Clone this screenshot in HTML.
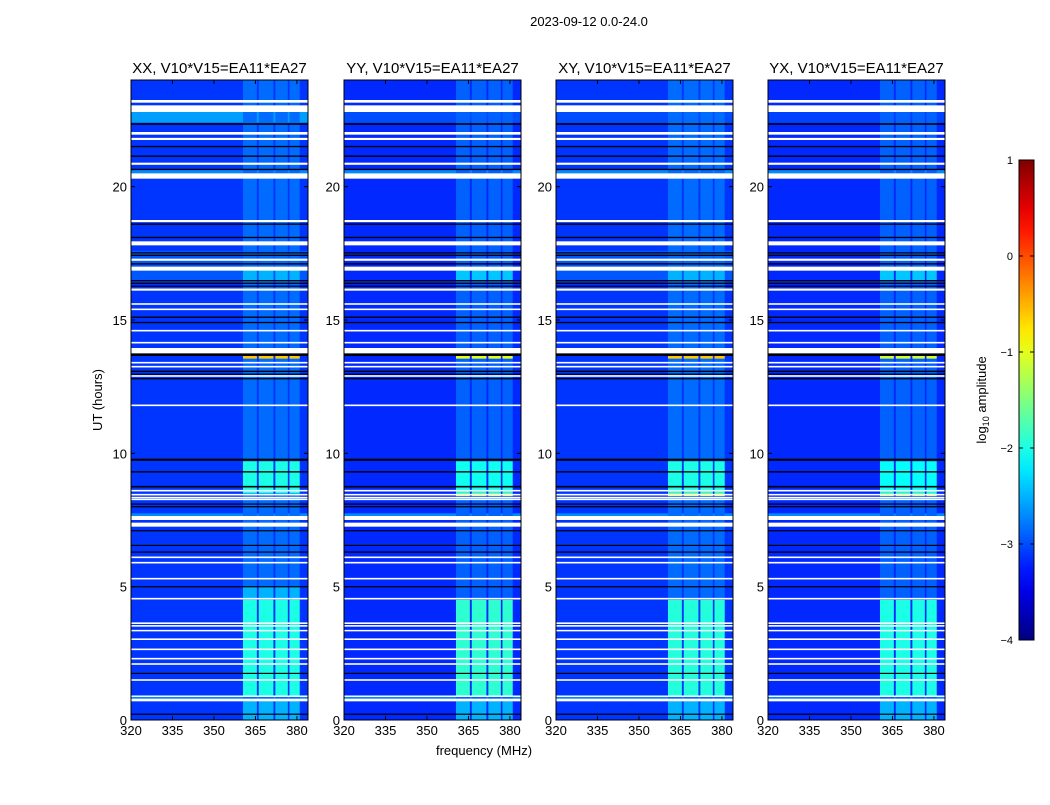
<!DOCTYPE html>
<html><head><meta charset="utf-8"><style>
body{margin:0;background:#fff;width:1050px;height:800px;overflow:hidden;font-family:"Liberation Sans","DejaVu Sans",sans-serif}
svg text{font-family:"Liberation Sans","DejaVu Sans",sans-serif}
</style></head><body>
<svg id="fig" width="1050" height="800" viewBox="0 0 1050 800" xmlns="http://www.w3.org/2000/svg">
<text x="589" y="26" font-size="13" text-anchor="middle">2023-09-12 0.0-24.0</text>
<text x="0" y="0" font-size="13" text-anchor="middle" transform="translate(102,400) rotate(-90)">UT (hours)</text>
<text x="484" y="755" font-size="13" text-anchor="middle">frequency (MHz)</text>
<g id="panels"></g>
<g id="cbar"></g>
</svg>
<script>
// ---- data ----
const panelTitles = ["XX, V10*V15=EA11*EA27","YY, V10*V15=EA11*EA27","XY, V10*V15=EA11*EA27","YX, V10*V15=EA11*EA27"];
const xTicks = [320,335,350,365,380];
const yTicks = [0,5,10,15,20];
const cbarTicks = [1,0,-1,-2,-3,-4];
const backgroundLevel = [-3.12,-3.18,-3.12,-3.18];
// flagged (white) time ranges in hours
const whiteBands = [[23.15,23.25],[22.95,23.05],[22.8,22.95],[21.95,22.05],[21.75,21.83],[20.82,20.9],[20.3,20.5],[18.67,18.75],[17.8,17.95],[17.22,17.3],[16.85,17.0],[16.1,16.18],[15.57,15.63],[15.37,15.43],[14.57,14.63],[14.12,14.18],[13.75,13.95],[13.37,13.43],[13.22,13.28],[12.87,12.93],[11.77,11.83],[8.57,8.63],[8.42,8.48],[8.32,8.37],[8.25,8.3],[7.5,7.65],[7.25,7.4],[6.07,6.13],[5.87,5.93],[5.27,5.33],[4.52,4.58],[3.6,3.66],[3.5,3.56],[3.33,3.38],[3.0,3.06],[2.62,2.68],[2.27,2.33],[2.07,2.13],[1.47,1.53],[0.88,0.92],[0.7,0.8]];
// black (zero) lines
const blackBands = [[22.32,22.38],[21.48,21.53],[21.12,21.17],[20.62,20.67],[18.57,18.62],[18.07,18.12],[17.4,17.45],[17.5,17.54],[17.08,17.13],[16.46,16.5],[16.36,16.4],[16.25,16.29],[15.08,15.13],[14.88,14.93],[13.65,13.75],[13.05,13.1],[12.95,12.99],[12.78,12.82],[9.72,9.8],[9.28,9.33],[8.72,8.78],[8.08,8.12],[7.98,8.02],[7.08,7.12],[6.53,6.57],[6.28,6.32],[4.98,5.02],[1.73,1.77],[0.2,0.24]];
// RFI sub-band frequency ranges (MHz)
const subBands = [[360.5,365.5],[366.2,371.5],[372.2,376.7],[377.3,381]];
// band level segments per panel: [h0,h1,log10 amplitude]
const bandXX = [[0,24,-2.85],[0,0.7,-2.5],[0.9,4.5,-2.0],[4.5,5.0,-2.5],[8.5,9.7,-2.0],[13.55,13.65,-0.6],[16.5,17.0,-2.5]];
const bandYY = [[0,24,-2.9],[0,0.7,-2.5],[0.9,4.5,-1.9],[8.4,8.5,-1.0],[8.5,9.7,-2.05],[13.55,13.65,-1.0],[16.5,17.0,-2.4]];
const bandXY = [[0,24,-2.85],[0,0.7,-2.5],[0.9,4.5,-1.95],[8.4,8.5,-0.9],[8.5,9.7,-2.0],[13.55,13.65,-0.6],[16.5,17.0,-2.5]];
const bandYX = [[0,24,-2.9],[0,0.7,-2.5],[0.9,4.5,-2.0],[8.4,8.5,-1.1],[8.5,9.7,-2.1],[13.55,13.65,-1.1],[16.5,17.0,-2.4]];
const bandLevels = [bandXX,bandYY,bandXY,bandYX];
// broadband brighter time regions per panel: [h0,h1,value]
const wideXX = [[22.4,22.8,-2.6],[20.5,20.65,-2.7],[16.5,17.6,-2.95],[0.8,0.9,-2.7],[7.65,7.75,-2.7]];
const wideYY = [[22.4,22.8,-3.0],[20.5,20.65,-2.7],[7.65,7.75,-2.7],[0.8,0.9,-2.7]];
const wideXY = [[22.4,22.8,-3.0],[20.5,20.65,-2.7],[16.5,17.6,-2.95],[7.65,7.75,-2.7],[0.8,0.9,-2.7]];
const wideYX = [[22.4,22.8,-3.05],[20.5,20.65,-2.7],[7.65,7.75,-2.7],[0.8,0.9,-2.7]];
const wideLevels = [wideXX,wideYY,wideXY,wideYX];

// ---- layout ----
const panelX = [131,344,556,768];
const PW = 177, PT = 80, PB = 720;
const F0 = 320, F1 = 384, H0 = 0, H1 = 24;
const NS = "http://www.w3.org/2000/svg";
function xScale(p,f){return panelX[p] + (f-F0)/(F1-F0)*PW;}
function yScale(h){return PB - (h-H0)/(H1-H0)*(PB-PT);}
function jet(v){
  let t=(v+4)/5; t=Math.max(0,Math.min(1,t));
  const c=x=>Math.round(255*Math.max(0,Math.min(1,x)));
  return `rgb(${c(1.5-Math.abs(4*t-3))},${c(1.5-Math.abs(4*t-2))},${c(1.5-Math.abs(4*t-1))})`;
}
function mk(tag,attrs,parent){const e=document.createElementNS(NS,tag);for(const k in attrs)e.setAttribute(k,attrs[k]);parent.appendChild(e);return e;}
const panels=document.getElementById('panels');
for(let p=0;p<4;p++){
  const g=mk('g',{},panels);
  
  
  const L=panelX[p];
  const bg=mk('rect',{x:L,y:PT,width:PW,height:PB-PT,fill:jet(backgroundLevel[p])},g);
  
  
  for(const w of wideLevels[p]){
    const r=mk('rect',{x:L,y:yScale(w[1]),width:PW,height:yScale(w[0])-yScale(w[1]),fill:jet(w[2])},g);
    
    
  }
  for(const seg of bandLevels[p]){
    for(const sb of subBands){
      const r=mk('rect',{x:xScale(p,sb[0]),y:yScale(seg[1]),width:xScale(p,sb[1])-xScale(p,sb[0]),height:yScale(seg[0])-yScale(seg[1]),fill:jet(seg[2])},g);
      
      
    }
  }
  for(const b of blackBands){
    const r=mk('rect',{x:L,y:yScale(b[1]),width:PW,height:Math.max(1.2,yScale(b[0])-yScale(b[1])),fill:'#000'},g);
    
    
  }
  for(const b of whiteBands){
    const r=mk('rect',{x:L,y:yScale(b[1]),width:PW,height:Math.max(1.5,yScale(b[0])-yScale(b[1])),fill:'#fff'},g);
    
    
  }
  const fr=mk('rect',{x:L,y:PT,width:PW,height:PB-PT,fill:'none',stroke:'#000','stroke-width':1},g);
  
  
  const t=mk('text',{x:L+PW/2,y:73,'font-size':15,'text-anchor':'middle'},g);
  t.textContent=panelTitles[p];
  
  
  for(const xt of xTicks){
    const x=xScale(p,xt);
    mk('line',{x1:x,x2:x,y1:PB,y2:PB-4,stroke:'#000'},g);
    mk('line',{x1:x,x2:x,y1:PT,y2:PT+4,stroke:'#000'},g);
    const tx=mk('text',{x:x,y:PB+15,'font-size':13,'text-anchor':'middle'},g);
    tx.textContent=xt;
    
    
  }
  for(const yt of yTicks){
    const y=yScale(yt);
    mk('line',{x1:L,x2:L+4,y1:y,y2:y,stroke:'#000'},g);
    mk('line',{x1:L+PW,x2:L+PW-4,y1:y,y2:y,stroke:'#000'},g);
    const ty=mk('text',{x:L-4,y:y+5,'font-size':13,'text-anchor':'end'},g);
    ty.textContent=yt;
    
    
  }
}
// colorbar
const cb=document.getElementById('cbar');


const defs=mk('defs',{},cb);
const grad=mk('linearGradient',{id:'jetg',x1:0,y1:1,x2:0,y2:0},defs);
for(let i=0;i<=20;i++){mk('stop',{offset:i/20,'stop-color':jet(-4+5*i/20)},grad);}
const CBX=1019,CBW=15,CBT=160,CBB=640;
mk('rect',{x:CBX,y:CBT,width:CBW,height:CBB-CBT,fill:'url(#jetg)',stroke:'#000','stroke-width':1},cb);
for(const v of cbarTicks){
  const y=CBB-(v+4)/5*(CBB-CBT);
  mk('line',{x1:CBX,x2:CBX+4,y1:y,y2:y,stroke:'#000'},cb);
  mk('line',{x1:CBX+CBW,x2:CBX+CBW-4,y1:y,y2:y,stroke:'#000'},cb);
  const t=mk('text',{x:1013,y:y+4,'font-size':11,'text-anchor':'end'},cb);
  t.textContent=v<0?'\u2212'+Math.abs(v):String(v);
  
  
}
const cl=mk('text',{'font-size':13,'text-anchor':'middle',transform:'translate(986,400) rotate(-90)'},cb);
cl.innerHTML='log<tspan font-size="9" dy="3">10</tspan><tspan dy="-3"> amplitude</tspan>';


</script>
</body></html>
